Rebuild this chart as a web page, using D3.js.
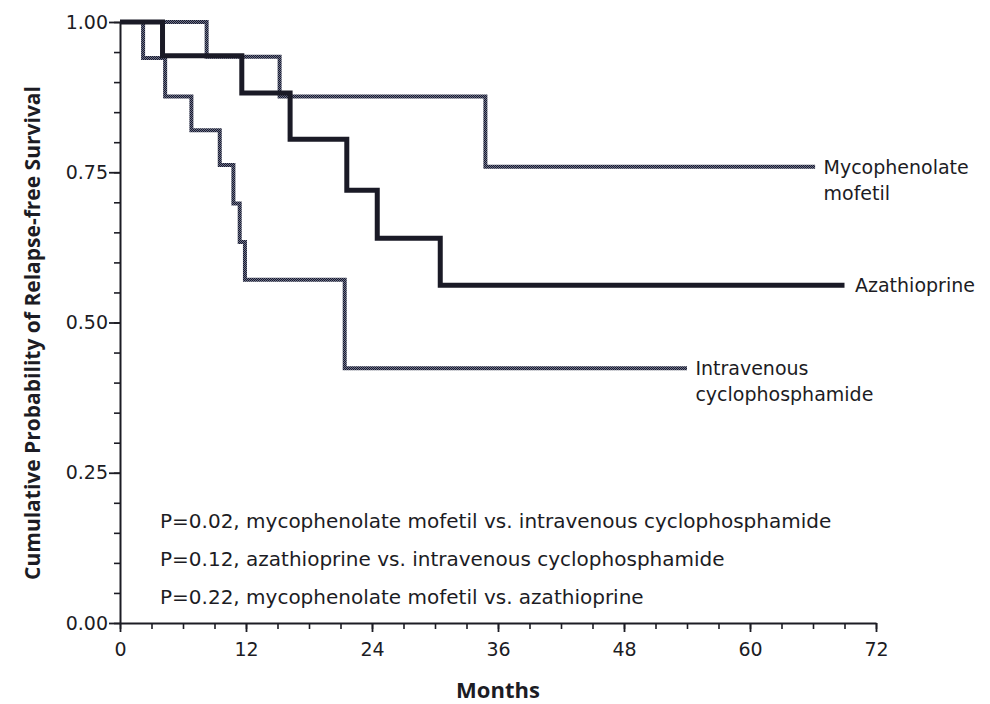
<!DOCTYPE html>
<html>
<head>
<meta charset="utf-8">
<script src="https://cdn.jsdelivr.net/npm/d3@7"></script>
<style>
  body { margin: 0; background: #fff; }
  text { fill: #1c1c24; }
</style>
</head>
<body>
<svg class="svg" width="990" height="704"></svg>
<script>
// données (mois, survie sans rechute)
const mmfMonths = [0, 8.25, 15.2, 34.8, 66.2];
const mmfSurv = [1, 0.942, 0.876, 0.759, 0.759];

const azaMonths = [0, 4.05, 11.6, 16.2, 21.6, 24.5, 30.5, 69.0];
const azaSurv = [1, 0.944, 0.882, 0.805, 0.720, 0.640, 0.562, 0.562];

const cycMonths = [0, 2.2, 4.3, 6.8, 9.5, 10.8, 11.4, 11.9, 21.4, 54.0];
const cycSurv = [1, 0.94, 0.876, 0.82, 0.762, 0.698, 0.634, 0.571, 0.424, 0.424];

const xTicks = d3.range(0, 73, 3);
const xLabels = [0, 12, 24, 36, 48, 60, 72];
const yTicks = d3.range(0, 1.0001, 0.05);
const yLabels = [0, 0.25, 0.5, 0.75, 1];

const pTexts = [
  "P=0.02, mycophenolate mofetil vs. intravenous cyclophosphamide",
  "P=0.12, azathioprine vs. intravenous cyclophosphamide",
  "P=0.22, mycophenolate mofetil vs. azathioprine"
];

const svg = d3.select(".svg");
const regular = "'DejaVu Sans', sans-serif";
const bold = "'Open Sans', sans-serif";

// trame (effet demi-teinte)
const pat = svg.append("defs").append("pattern")
  .attr("id", "trame")
  .attr("patternUnits", "userSpaceOnUse")
  .attr("width", 2).attr("height", 2);
pat.append("rect").attr("width", 2).attr("height", 2).attr("fill", "#70728a");
pat.append("rect").attr("width", 1).attr("height", 1).attr("fill", "#161a2c");
pat.append("rect").attr("x", 1).attr("y", 1).attr("width", 1).attr("height", 1).attr("fill", "#161a2c");

const x = d3.scaleLinear().domain([0, 72]).range([120, 876]);
const y = d3.scaleLinear().domain([0, 1]).range([623, 22]);

// axe x : petites graduations tous les 3 mois
svg.append("g")
  .attr("transform", "translate(0," + y(0) + ")")
  .call(d3.axisBottom(x).tickValues(xTicks).tickSize(6).tickFormat(""))
  .call(g => g.select(".domain").remove())
  .call(g => g.selectAll("line").attr("stroke", "#1c1c24").attr("stroke-width", 1.6));

svg.append("g")
  .attr("transform", "translate(0," + y(0) + ")")
  .call(d3.axisBottom(x).tickValues(xLabels).tickSize(9).tickPadding(11).tickSizeOuter(0))
  .call(g => g.select(".domain").attr("stroke", "#1c1c24").attr("stroke-width", 2))
  .call(g => g.selectAll("line").attr("stroke", "#1c1c24").attr("stroke-width", 1.8))
  .call(g => g.selectAll("text").attr("font-size", 19).style("font-family", regular).attr("fill", "#1c1c24"));

// axe y
svg.append("g")
  .attr("transform", "translate(" + x(0) + ",0)")
  .call(d3.axisLeft(y).tickValues(yTicks).tickSize(6).tickFormat(""))
  .call(g => g.select(".domain").remove())
  .call(g => g.selectAll("line").attr("stroke", "#1c1c24").attr("stroke-width", 1.6));

svg.append("g")
  .attr("transform", "translate(" + x(0) + ",0)")
  .call(d3.axisLeft(y).tickValues(yLabels).tickSize(11).tickPadding(1).tickSizeOuter(0).tickFormat(d3.format(".2f")))
  .call(g => g.select(".domain").attr("stroke", "#1c1c24").attr("stroke-width", 2))
  .call(g => g.selectAll("line").attr("stroke", "#1c1c24").attr("stroke-width", 1.8))
  .call(g => g.selectAll("text").attr("font-size", 19).style("font-family", regular).attr("fill", "#1c1c24"));

// courbes en escalier
const line = d3.line()
  .x(d => x(d[0]))
  .y(d => y(d[1]))
  .curve(d3.curveStepAfter);

const series = [
  { months: mmfMonths, surv: mmfSurv, color: "url(#trame)", width: 4 },
  { months: cycMonths, surv: cycSurv, color: "url(#trame)", width: 4 },
  { months: azaMonths, surv: azaSurv, color: "#1a1a26", width: 5 }
];

series.forEach(s => {
  svg.append("path")
    .datum(d3.zip(s.months, s.surv))
    .attr("d", line)
    .attr("fill", "none")
    .attr("stroke", s.color)
    .attr("stroke-width", s.width)
    .attr("stroke-linejoin", "miter");
});

// étiquettes des courbes
const labels = [
  { lines: ["Mycophenolate", "mofetil"], m: 67, v: mmfSurv[mmfSurv.length - 1] },
  { lines: ["Azathioprine"], m: 70, v: azaSurv[azaSurv.length - 1] },
  { lines: ["Intravenous", "cyclophosphamide"], m: 54.8, v: cycSurv[cycSurv.length - 1] }
];

labels.forEach(l => {
  const t = svg.append("text")
    .attr("x", x(l.m))
    .attr("y", y(l.v) + 7)
    .attr("font-size", 19)
    .style("font-family", regular);
  l.lines.forEach((s, i) => {
    t.append("tspan").attr("x", x(l.m)).attr("dy", i === 0 ? 0 : 26).text(s);
  });
});

// valeurs de P
svg.selectAll(".ptext")
  .data(pTexts)
  .enter()
  .append("text")
  .attr("class", "ptext")
  .attr("x", 160)
  .attr("y", (d, i) => 528 + i * 38)
  .attr("font-size", 20)
  .style("font-family", regular)
  .text(d => d);

// titres des axes
svg.append("text")
  .attr("x", x(36))
  .attr("y", 698)
  .attr("text-anchor", "middle")
  .attr("font-size", 22)
  .style("font-family", bold)
  .attr("font-weight", "bold")
  .text("Months");

svg.append("text")
  .attr("transform", "translate(40,333) rotate(-90)")
  .attr("text-anchor", "middle")
  .attr("font-size", 21)
  .style("font-family", bold)
  .attr("font-weight", "bold")
  .text("Cumulative Probability of Relapse-free Survival");
</script>
</body>
</html>
